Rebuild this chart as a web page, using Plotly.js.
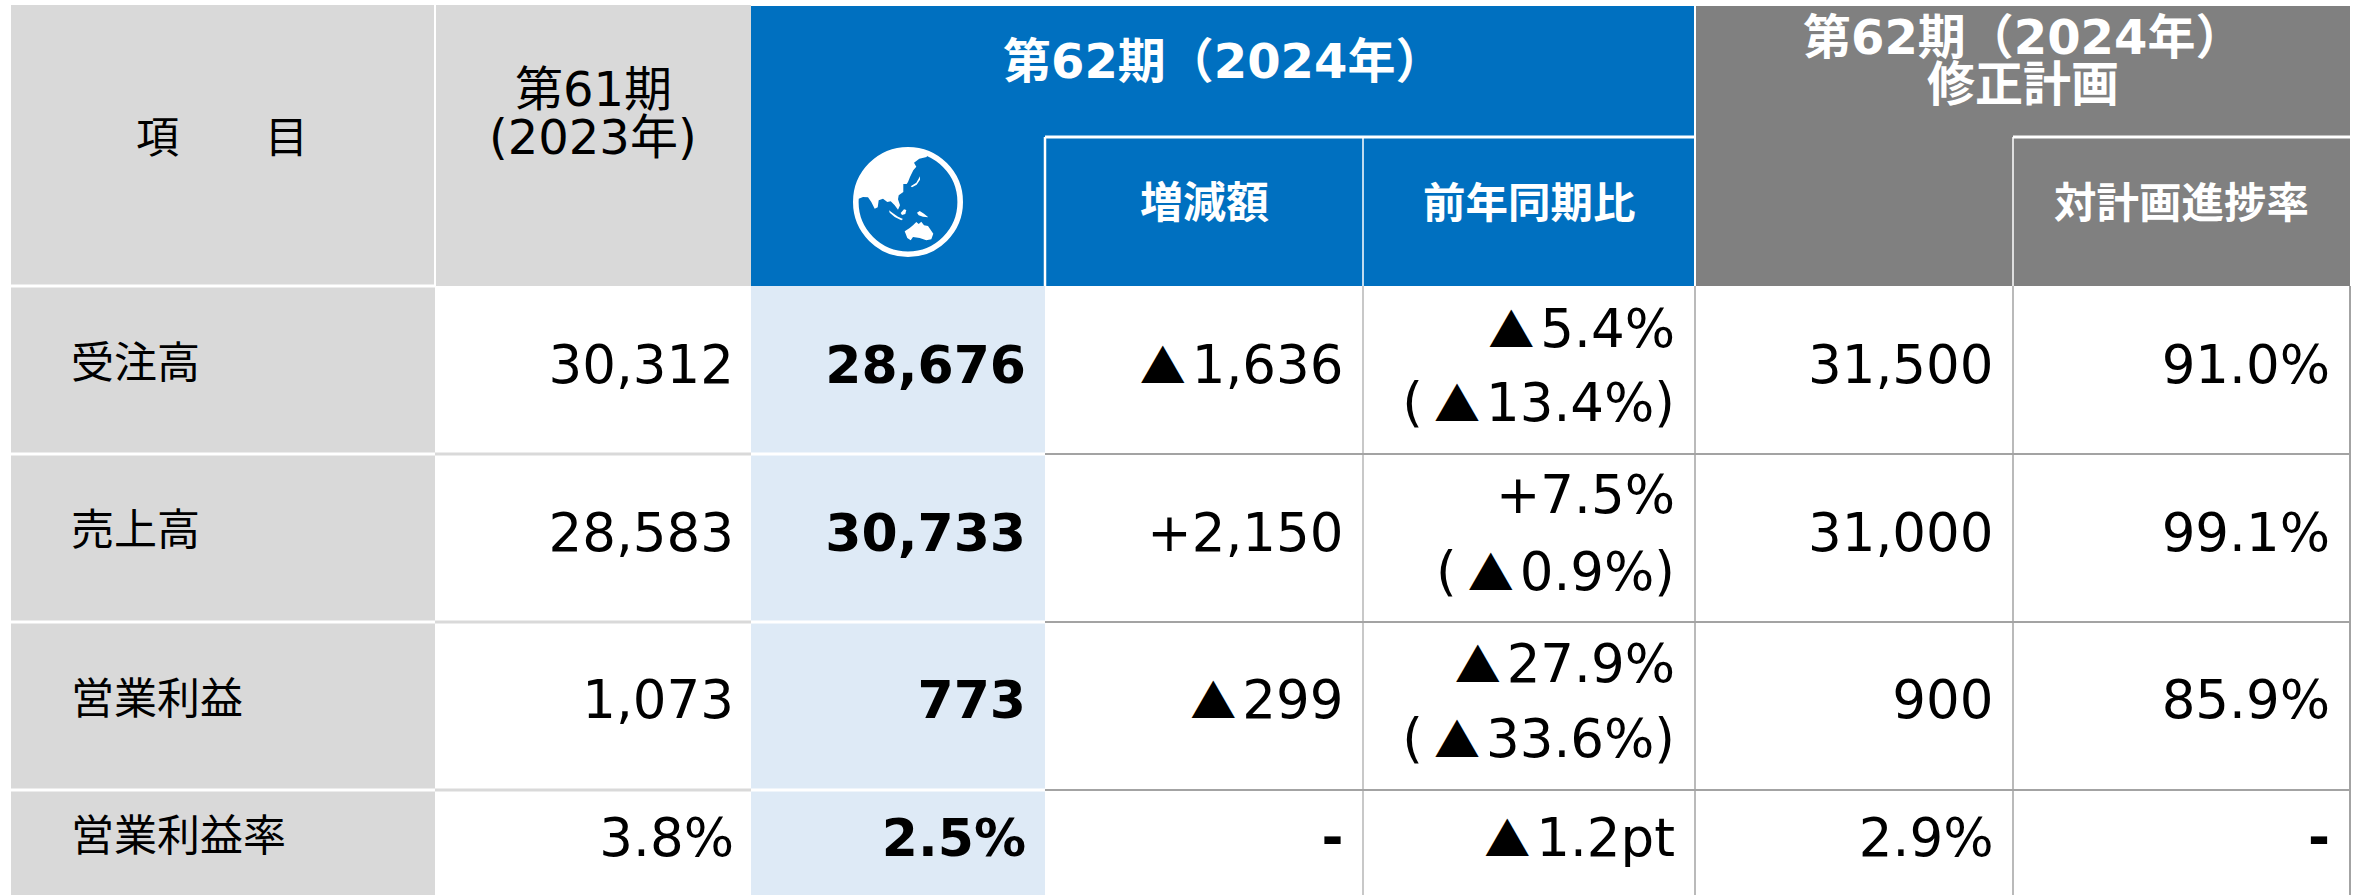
<!DOCTYPE html>
<html lang="ja">
<head>
<meta charset="utf-8">
<title>第62期 業績</title>
<script src="https://cdn.plot.ly/plotly-3.0.1.min.js"></script>
<style>html,body{margin:0;padding:0;background:#fff}#chart{width:2364px;height:895px}</style>
</head>
<body>
<div id="chart"></div>
<script>
// ---- chart content ----
const itemHeader = "項　　目";
const prevHeader = ["第61期", "(2023年)"];
const currHeader = "第62期（2024年）";
const planHeader = ["第62期（2024年）", "修正計画"];
const subHeaders = ["増減額", "前年同期比", "対計画進捗率"];
const items = ["受注高", "売上高", "営業利益", "営業利益率"];
const prevValues = ["30,312", "28,583", "1,073", "3.8%"];
const currValues = ["28,676", "30,733", "773", "2.5%"];
const changeValues = ["▲1,636", "+2,150", "▲299", "-"];
const yoyLine1 = ["▲5.4%", "+7.5%", "▲27.9%", "▲1.2pt"];
const yoyLine2 = ["(▲13.4%)", "(▲0.9%)", "(▲33.6%)", ""];
const planValues = ["31,500", "31,000", "900", "2.9%"];
const progressValues = ["91.0%", "99.1%", "85.9%", "-"];

// ---- geometry (page pixels) ----
const W = 2364, H = 895;
const FONT = '"DejaVu Sans", "Noto Sans CJK JP", sans-serif';
const CJK = '"Noto Sans CJK JP", "DejaVu Sans", sans-serif';
const colX = [11, 435, 751, 1045, 1363, 1695, 2013, 2350];
const rowY = [286, 454, 622, 790, 895];
const valueY = [370, 537.5, 705, 843];
const itemY = [359, 526, 695, 832];
const line1Y = [334, 500, 669, 843];
const line2Y = [408, 577, 744, 843];
const SIZE = 53;

const C = {gray:"#D9D9D9", blue:"#0070C0", dark:"#808080", tint:"#DEEAF6", rule:"#A3A3A3", white:"#FFFFFF"};

const shapes = [];
function rect(x0, y0, x1, y1, fill) {
  shapes.push({type:"rect", xref:"x", yref:"y", x0, y0, x1, y1, fillcolor:fill, line:{width:0}, layer:"below"});
}
function line(x0, y0, x1, y1, color, width) {
  shapes.push({type:"line", xref:"x", yref:"y", x0, y0, x1, y1, line:{color, width}, layer:"below"});
}
// fills
rect(colX[0], 5, colX[2], rowY[0], C.gray);
rect(colX[2], 6, colX[5], rowY[0], C.blue);
rect(colX[5], 6, colX[7], rowY[0], C.dark);
rect(colX[0], rowY[0], colX[1], H, C.gray);
rect(colX[2], rowY[0], colX[3], H, C.tint);
// header rules
line(colX[1], 5, colX[1], rowY[0], C.white, 2);
line(colX[3], 137, colX[5], 137, C.white, 3);
line(colX[6], 137, colX[7], 137, C.white, 3);
line(colX[3], 137, colX[3], rowY[0], C.white, 2.5);
line(colX[4], 137, colX[4], rowY[0], C.white, 1.5);
line(colX[5], 6, colX[5], rowY[0], C.white, 2);
line(colX[6], 137, colX[6], rowY[0], C.white, 1.5);
// body rules
[rowY[0]].forEach(y => line(colX[0], y, colX[1], y, C.white, 3));
rowY.slice(1, 4).forEach(y => {
  line(colX[0], y, colX[1], y, C.white, 3);
  line(colX[1], y, colX[2], y, C.gray, 3);
  line(colX[2], y, colX[3], y, C.white, 3);
  line(colX[3], y, colX[7], y, C.rule, 2);
});
line(colX[4], rowY[0], colX[4], H, C.rule, 1.2);
line(colX[5], rowY[0], colX[5], H, C.rule, 1.5);
line(colX[6], rowY[0], colX[6], H, C.rule, 1.5);
line(colX[7], rowY[0], colX[7], H, C.rule, 2);

// globe icon: traced in a 360 px crop of the picture, placed at (848,142), scale 1/3
const globeLand = [[32,170],[45,165],[60,166],[70,180],[80,200],[89,196],[92,175],[105,170],[118,180],[128,178],[140,190],[150,203],[156,190],[150,172],[152,160],[166,150],[166,126],[176,126],[180,120],[186,105],[196,85],[205,74],[198,62],[214,50],[236,45],[240,30],[210,20],[180,20],[150,22],[120,30],[95,44],[50,90],[31,145],[25,170]];
const globeIslands = [
  [[188,133],[205,122],[216,103],[216,113],[206,128],[192,136]],
  [[123,205],[135,214],[150,224],[165,231],[160,235],[140,225],[125,212]],
  [[158,213],[168,202],[175,204],[172,216],[162,219]],
  [[207,212],[215,207],[228,215],[241,226],[225,224],[212,220]],
  [[170,268],[185,258],[195,250],[205,240],[212,246],[220,239],[228,250],[240,252],[256,275],[250,292],[235,295],[215,288],[195,285],[188,295],[178,288]]
];
const gp = p => (848 + p[0] / 3).toFixed(1) + "," + (142 + p[1] / 3).toFixed(1);
const closed = pts => "M" + pts.map(gp).join("L") + "Z";
shapes.push({type:"circle", xref:"x", yref:"y", x0:908-52.2, y0:202-52.2, x1:908+52.2, y1:202+52.2,
  fillcolor:"rgba(0,0,0,0)", line:{color:C.white, width:5.6}, layer:"below"});
shapes.push({type:"path", xref:"x", yref:"y", path:[globeLand].concat(globeIslands).map(closed).join(""),
  fillcolor:C.white, line:{width:0}, layer:"below"});

// header labels
const annotations = [];
function label(text, x, y, size, color, bold, anchor, family) {
  annotations.push({xref:"x", yref:"y", x, y, text: bold ? "<b>" + text + "</b>" : text, showarrow:false,
    xanchor:anchor || "center", yanchor:"middle", borderpad:0,
    font:{family:family || FONT, size, color}});
}
label(itemHeader, 222, 134, 43, "#000000", false, "center", CJK);
label(prevHeader[0], 593, 89, 48, "#000000");
label(prevHeader[1], 593, 137, 48, "#000000");
label(currHeader, 1223, 61, 48, C.white, true);
label(planHeader[0], 2023, 37, 48, C.white, true);
label(planHeader[1], 2023, 84, 48, C.white, true);
label(subHeaders[0], 1204, 203, 43, C.white, true);
label(subHeaders[1], 1529, 203, 42.5, C.white, true);
label(subHeaders[2], 2181, 203, 42.5, C.white, true);
items.forEach((t, i) => label(t, 70, itemY[i], 43, "#000000", false, "left", CJK));

// body values as text traces on the same axes; the triangle comes from the CJK font, with its side gaps
const TRI = '<span style="font-family:\'Noto Sans CJK JP\';font-size:46px;letter-spacing:6px">▲</span>';
const PAREN = '<span style="letter-spacing:11px">(</span>';
const dress = t => t === "-" ? "<b>-</b>" : t.replace("(", PAREN).replace("▲", TRI);
function column(text, x, ys, bold, size) {
  return {type:"scatter", mode:"text", x:text.map(() => x), y:ys, text:text.map(dress), textposition:"middle left",
    textfont:{family:FONT, size:size || SIZE, color:"#000000", weight: bold ? 700 : 400},
    hoverinfo:"skip", showlegend:false, cliponaxis:false};
}
const traces = [
  column(prevValues, 734, valueY, false),
  column(currValues, 1026, valueY, true, 52),
  column(changeValues, 1343.5, valueY, false),
  column(yoyLine1, 1675, line1Y, false),
  column(yoyLine2, 1675, line2Y, false),
  column(planValues, 1993.5, valueY, false),
  column(progressValues, 2330, valueY, false)
];

Plotly.newPlot("chart", traces, {
  width:W, height:H, margin:{l:0, r:0, t:0, b:0, pad:0}, showlegend:false,
  paper_bgcolor:"#FFFFFF", plot_bgcolor:"#FFFFFF",
  xaxis:{range:[0, W], visible:false, fixedrange:true},
  yaxis:{range:[H, 0], visible:false, fixedrange:true},
  shapes, annotations
}, {staticPlot:true, displayModeBar:false});
</script>
</body>
</html>
